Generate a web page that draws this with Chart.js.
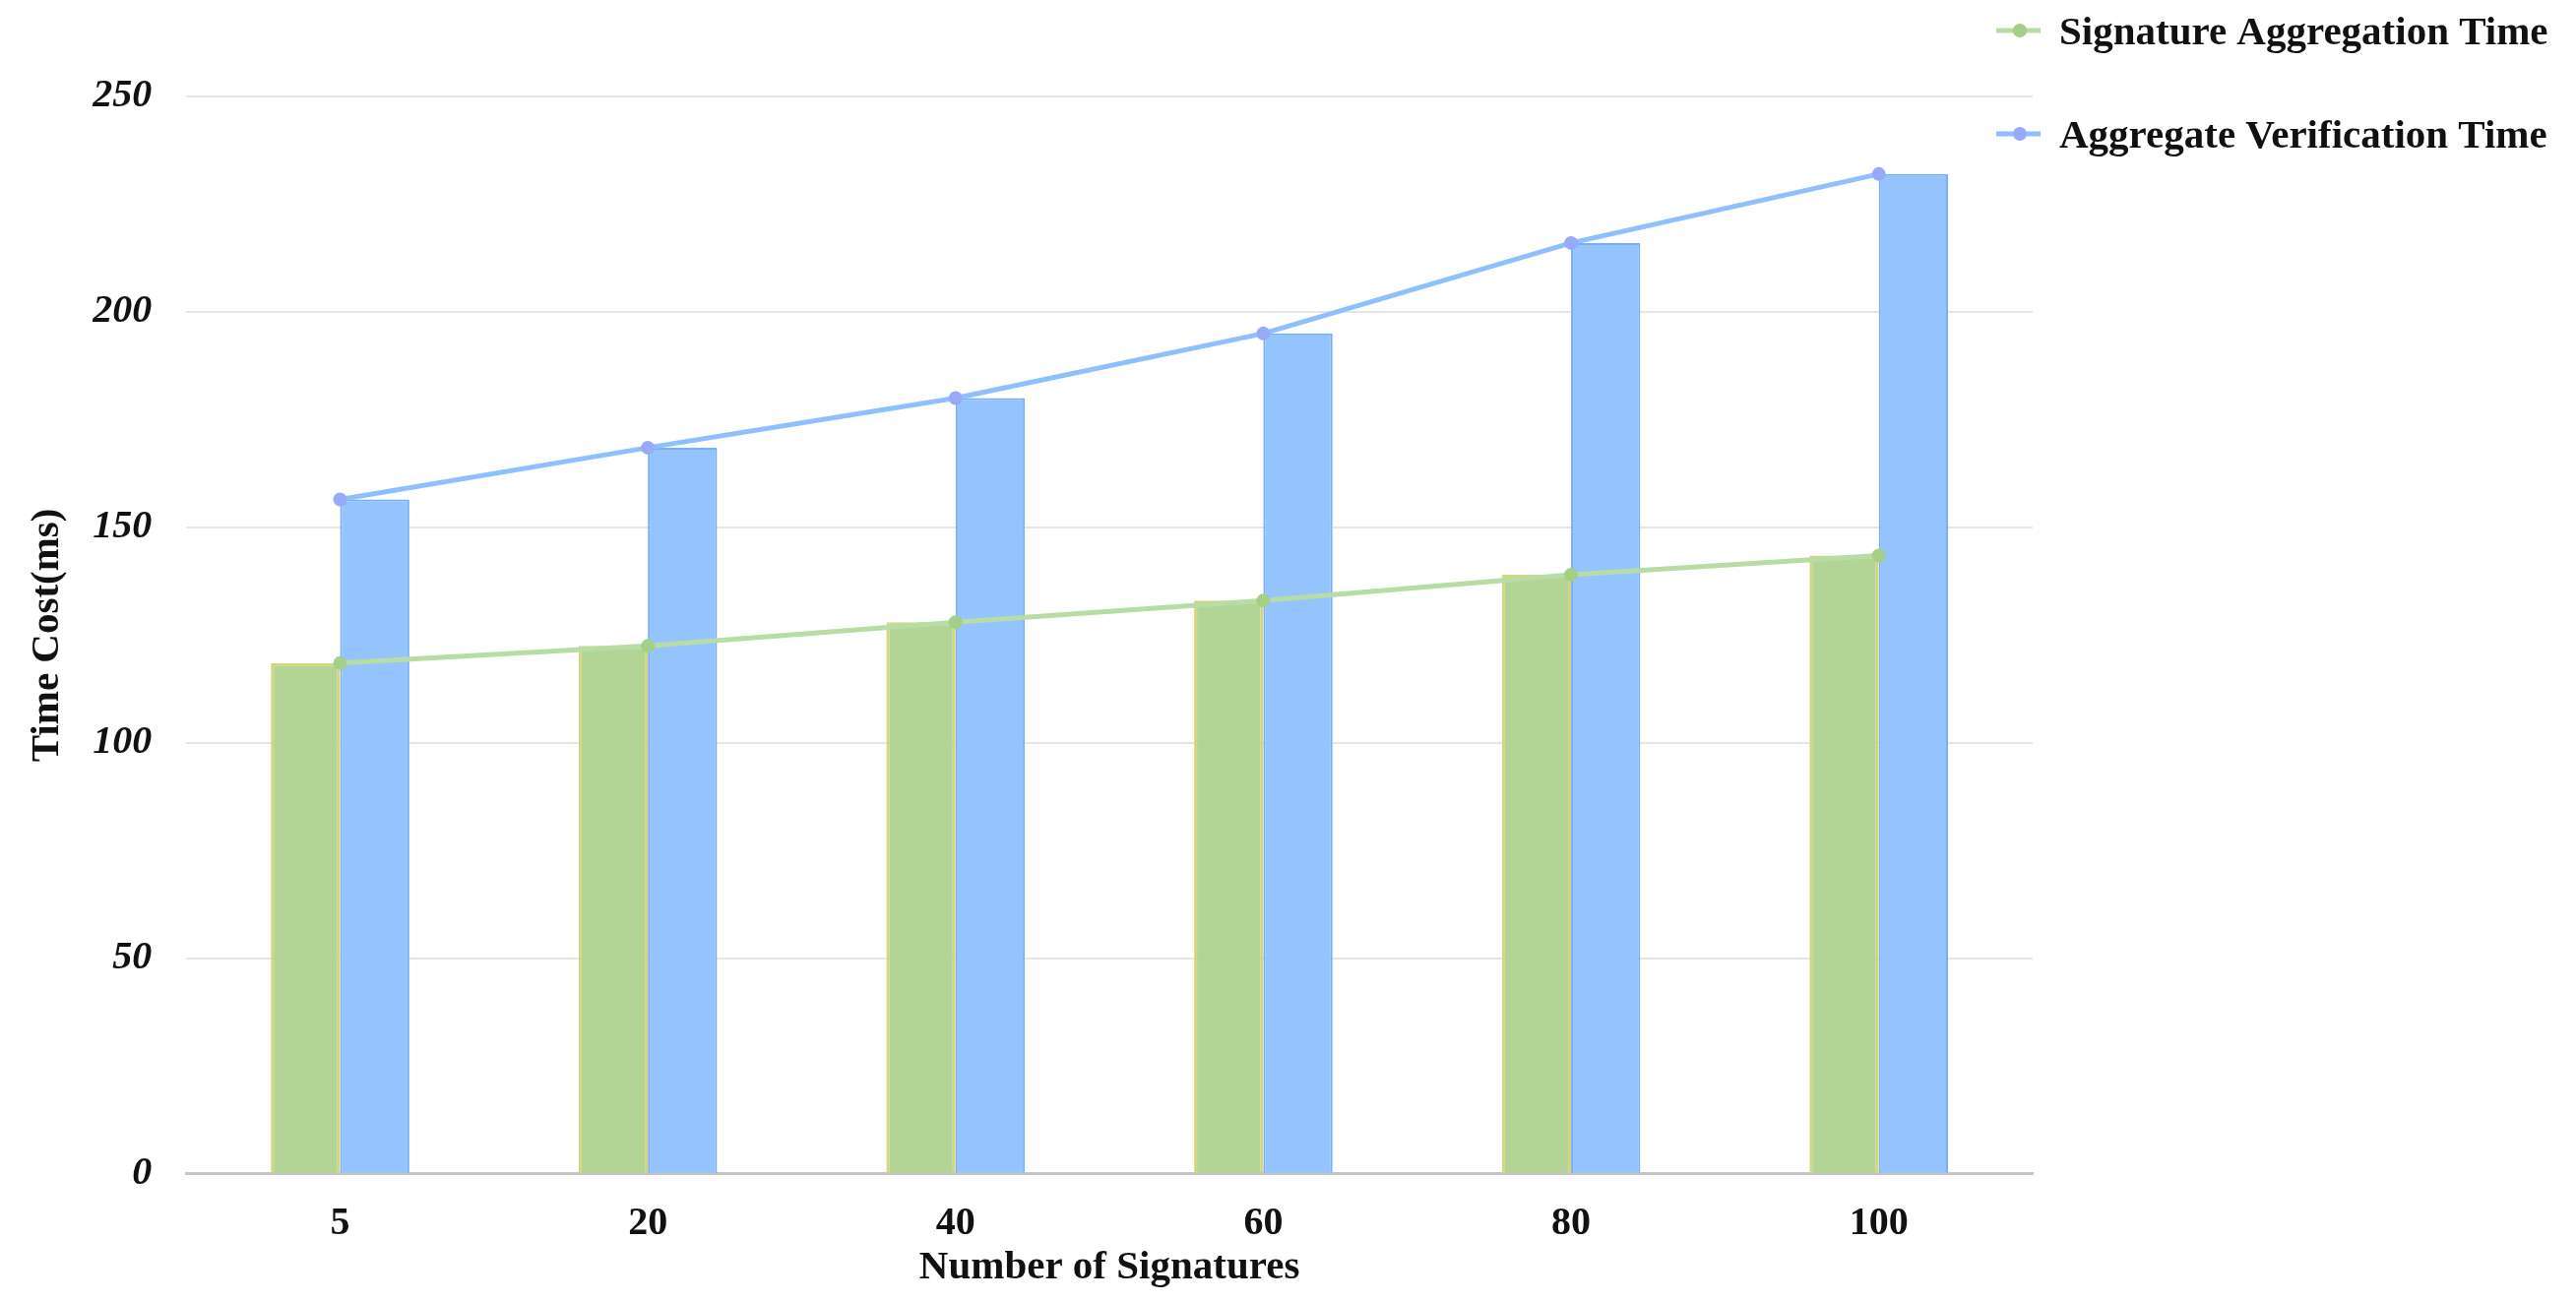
<!DOCTYPE html>
<html>
<head>
<meta charset="utf-8">
<script src="https://cdn.jsdelivr.net/npm/chart.js@4/dist/chart.umd.min.js"></script>
<style>
  html, body { margin: 0; padding: 0; background: #ffffff; }
  #wrap { width: 2617px; height: 1323px; position: relative; }
</style>
</head>
<body>
<div id="wrap"><canvas id="c"></canvas></div>
<script>
const categories = ['5', '20', '40', '60', '80', '100'];
const aggregationTime = [118.5, 122.5, 128, 133, 139, 143.5];
const verificationTime = [156.5, 168.5, 180, 195, 216, 232];
const yTicks = [0, 50, 100, 150, 200, 250];
const seriesNames = ['Signature Aggregation Time', 'Aggregate Verification Time'];

const FONT = '"Liberation Serif", "Times New Roman", serif';

const legendPlugin = {
  id: 'customLegend',
  afterDraw(chart) {
    const ctx = chart.ctx;
    const items = chart.data.datasets.filter(d => d.type === 'line');
    const ys = [31, 136];
    ctx.save();
    items.forEach((d, i) => {
      const y = ys[i];
      ctx.strokeStyle = d.borderColor;
      ctx.lineWidth = 5;
      ctx.beginPath();
      ctx.moveTo(2028, y);
      ctx.lineTo(2073, y);
      ctx.stroke();
      ctx.fillStyle = d.pointBackgroundColor;
      ctx.beginPath();
      ctx.arc(2052, y, 7, 0, Math.PI * 2);
      ctx.fill();
      ctx.fillStyle = '#111111';
      ctx.font = 'bold 41px ' + FONT;
      ctx.textBaseline = 'middle';
      ctx.textAlign = 'left';
      ctx.fillText(d.label, 2092, y + 3);
    });
    ctx.restore();
  }
};

new Chart(document.getElementById('c'), {
  data: {
    labels: categories,
    datasets: [
      {
        type: 'line',
        label: seriesNames[0],
        data: aggregationTime,
        borderColor: '#b7dca5',
        backgroundColor: '#b7dca5',
        pointBackgroundColor: '#a3cf88',
        pointBorderWidth: 0,
        pointRadius: 7,
        borderWidth: 5,
        tension: 0,
        order: 0
      },
      {
        type: 'line',
        label: seriesNames[1],
        data: verificationTime,
        borderColor: '#8ec0fd',
        backgroundColor: '#8ec0fd',
        pointBackgroundColor: '#98a9fa',
        pointBorderWidth: 0,
        pointRadius: 7,
        borderWidth: 5,
        tension: 0,
        order: 0
      },
      {
        type: 'bar',
        label: seriesNames[0] + ' (bar)',
        data: aggregationTime,
        backgroundColor: '#b2d495',
        borderColor: '#d6d57c',
        borderWidth: 3,
        categoryPercentage: 0.45,
        barPercentage: 1.0,
        order: 1
      },
      {
        type: 'bar',
        label: seriesNames[1] + ' (bar)',
        data: verificationTime,
        backgroundColor: '#94c3fe',
        borderColor: '#76aef9',
        borderWidth: 2,
        categoryPercentage: 0.45,
        barPercentage: 1.0,
        order: 1
      }
    ]
  },
  options: {
    responsive: true,
    maintainAspectRatio: false,
    animation: false,
    devicePixelRatio: 1,
    layout: { padding: { left: 10, right: 552, top: 98, bottom: 10 } },
    plugins: {
      legend: { display: false },
      tooltip: { enabled: false }
    },
    scales: {
      x: {
        grid: { display: false, drawTicks: false },
        border: { display: true, color: '#c6c6c6', width: 3 },
        ticks: {
          color: '#111111',
          padding: 31,
          font: { family: FONT, size: 40, weight: 'bold', lineHeight: 1.0 }
        },
        title: {
          display: true,
          text: 'Number of Signatures',
          color: '#111111',
          padding: { top: -31, bottom: 0 },
          font: { family: FONT, size: 41, weight: 'bold', lineHeight: 1.2 }
        }
      },
      y: {
        min: 0,
        max: 250,
        afterBuildTicks(scale) { scale.ticks = yTicks.map(v => ({ value: v })); },
        grid: { color: '#e6e6e6', lineWidth: 2, drawTicks: false },
        border: { display: false },
        ticks: {
          color: '#111111',
          padding: 35,
          font: { family: FONT, size: 40, weight: 'bold', style: 'italic' }
        },
        title: {
          display: true,
          text: 'Time Cost(ms)',
          color: '#111111',
          padding: { top: 14, bottom: -14 },
          font: { family: FONT, size: 41, weight: 'bold', lineHeight: 1.2 }
        }
      }
    }
  },
  plugins: [legendPlugin]
});
</script>
</body>
</html>
